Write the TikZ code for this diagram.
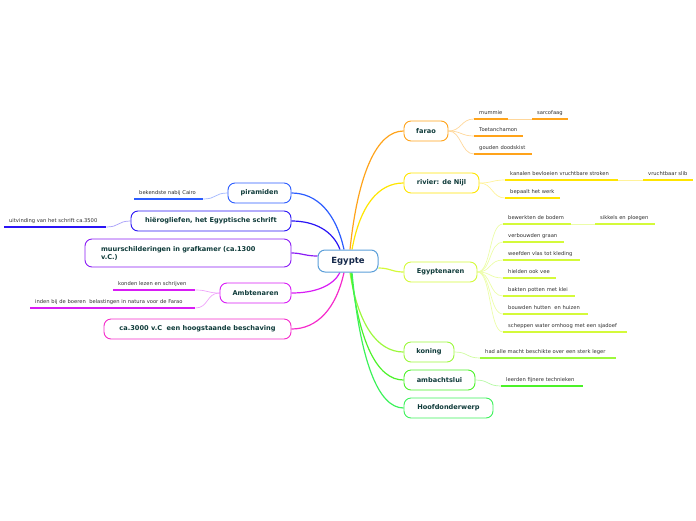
\documentclass[tikz,border=0pt]{standalone}
\usepackage{fontspec}
\setmainfont{DejaVu Sans}
\usetikzlibrary{backgrounds}
\definecolor{cE}{HTML}{5B9FD9}
\definecolor{navy}{HTML}{14284A}
\definecolor{txt}{HTML}{0F3B3A}
\definecolor{leaftxt}{HTML}{2E2E2E}
\definecolor{cFar}{HTML}{FFA31A}
\definecolor{cFarL}{HTML}{FFD79A}
\definecolor{cRiv}{HTML}{FFE500}
\definecolor{cRivL}{HTML}{FFF29A}
\definecolor{cEgy}{HTML}{D4FA3A}
\definecolor{cEgyL}{HTML}{ECFDA8}
\definecolor{cKon}{HTML}{9CF83C}
\definecolor{cKonL}{HTML}{CFFCA0}
\definecolor{cAmb}{HTML}{4CF229}
\definecolor{cAmbL}{HTML}{B5F9A5}
\definecolor{cHoo}{HTML}{3CF25A}
\definecolor{cPir}{HTML}{2B5CFF}
\definecolor{cPirL}{HTML}{9FB5FF}
\definecolor{cHie}{HTML}{2A14F5}
\definecolor{cHieL}{HTML}{A59CF9}
\definecolor{cMuu}{HTML}{8A1CF5}
\definecolor{cAmt}{HTML}{D81CF5}
\definecolor{cAmtL}{HTML}{EFA4FA}
\definecolor{cCa}{HTML}{F52ACB}
\begin{document}
\begin{tikzpicture}[x=1pt,y=-1pt,
  topic/.style={draw, line width=0.9pt, rounded corners=7pt, fill=white,
    minimum height=20pt, inner sep=0pt,
    font=\fontsize{6.6}{8}\selectfont\bfseries, text=txt},
  leaf/.style={inner xsep=5pt, inner ysep=3pt, align=left,
    text height=3.8pt, text depth=1.2pt,
    font=\fontsize{5.2}{6}\selectfont, text=leaftxt, anchor=south west},
  ul/.style={line width=1.5pt},
  lk/.style={line width=0.7pt},
  mc/.style={line width=1.2pt}]
\useasboundingbox (0,0) rectangle (696,520);

% central node
\node[topic, draw=cE, line width=1pt, minimum width=60pt, minimum height=22pt,
  font=\fontsize{8.5}{10}\selectfont\bfseries, text=navy] (E) at (348,261) {Egypte};

% right topics
\node[topic, draw=cFar, minimum width=44pt] (farao) at (426,131) {farao};
\node[topic, draw=cRiv, minimum width=75pt] (rivier) at (441.5,183) {rivier: de Nijl};
\node[topic, draw=cEgy, minimum width=73pt] (egy) at (440.5,272) {Egyptenaren};
\node[topic, draw=cKon, minimum width=50pt] (koning) at (429,352) {koning};
\node[topic, draw=cAmb, minimum width=71pt] (amb) at (439.5,380) {ambachtslui};
\node[topic, draw=cHoo, minimum width=89pt] (hoofd) at (448.5,408) {Hoofdonderwerp};

% left topics
\node[topic, draw=cPir, minimum width=63pt] (pir) at (259.5,193) {piramiden};
\node[topic, draw=cHie, minimum width=160pt] (hie) at (211,221) {hiërogliefen, het Egyptische schrift};
\node[topic, draw=cMuu, minimum width=206pt, minimum height=28pt, text width=174pt, align=left] (muur) at (188,253)
  {\mbox{muurschilderingen in grafkamer (ca.1300}\\v.C.)};
\node[topic, draw=cAmt, minimum width=71pt] (amt) at (255.5,293) {Ambtenaren};
\node[topic, draw=cCa, minimum width=187pt] (ca) at (197.5,329) {ca.3000 v.C\ \ een hoogstaande beschaving};

% leaves farao
\node[leaf, text width=24pt] (f1) at (474,119) {\mbox{mummie}};
\node[leaf, text width=26pt] (f1a) at (532,119) {\mbox{sarcofaag}};
\node[leaf, text width=39pt] (f2) at (474,136) {\mbox{Toetanchamon}};
\node[leaf, text width=48pt] (f3) at (474,154) {\mbox{gouden doodskist}};
% leaves rivier
\node[leaf, text width=103pt] (r1) at (505,180) {\mbox{kanalen bevloeien vruchtbare stroken}};
\node[leaf, text width=40pt] (r1a) at (643,180) {\mbox{vruchtbaar slib}};
\node[leaf, text width=45pt] (r2) at (505,198) {\mbox{bepaalt het werk}};
% leaves Egyptenaren
\node[leaf, text width=58pt] (e1) at (503,224) {\mbox{bewerkten de bodem}};
\node[leaf, text width=50pt] (e1a) at (595,224) {\mbox{sikkels en ploegen}};
\node[leaf, text width=51pt] (e2) at (503,242) {\mbox{verbouwden graan}};
\node[leaf, text width=67pt] (e3) at (503,260) {\mbox{weefden vlas tot kleding}};
\node[leaf, text width=43pt] (e4) at (503,278) {\mbox{hielden ook vee}};
\node[leaf, text width=62pt] (e5) at (503,296) {\mbox{bakten potten met klei}};
\node[leaf, text width=75pt] (e6) at (503,314) {\mbox{bouwden hutten\ \ en huizen}};
\node[leaf, text width=114pt] (e7) at (503,332) {\mbox{scheppen water omhoog met een sjadoef}};
% leaves koning, ambachtslui
\node[leaf, text width=126pt] (k1) at (480,358) {\mbox{had alle macht beschikte over een sterk leger}};
\node[leaf, text width=72pt] (a1) at (501,386) {\mbox{leerden fijnere technieken}};
% left leaves
\node[leaf, text width=59pt] (p1) at (134,199) {\mbox{bekendste nabij Cairo}};
\node[leaf, text width=92pt] (h1) at (4,227) {\mbox{uitvinding van het schrift ca.3500}};
\node[leaf, text width=72pt] (am1) at (113,290) {\mbox{konden lezen en schrijven}};
\node[leaf, text width=155pt] (am2) at (30,308) {\mbox{inden bij de boeren\ \ belastingen in natura voor de Farao}};

\begin{scope}[on background layer]
% main connectors
\draw[mc, cFar] ([xshift=2pt]E.north) .. controls (358,173) and (377,131) .. (farao.west);
\draw[mc, cRiv] ([xshift=4pt]E.north) .. controls (360,206) and (378,183) .. (rivier.west);
\draw[mc, cEgy] ([yshift=-7pt]E.east) .. controls (390,268) and (392,272) .. (egy.west);
\draw[mc, cKon] ([xshift=2pt]E.south) .. controls (358,324) and (377,352) .. (koning.west);
\draw[mc, cAmb] ([xshift=3pt]E.south) .. controls (359,342) and (377,380) .. (amb.west);
\draw[mc, cHoo] ([xshift=4pt]E.south) .. controls (360,360) and (378,408) .. (hoofd.west);
\draw[mc, cPir] ([xshift=-4pt]E.north) .. controls (336,213) and (317,193) .. (pir.east);
\draw[mc, cHie] ([xshift=-8pt]E.north) .. controls (333,231) and (315,221) .. (hie.east);
\draw[mc, cMuu] ([yshift=5pt]E.west) .. controls (305,256) and (302,253) .. (muur.east);
\draw[mc, cAmt] ([xshift=-8pt]E.south) .. controls (333,286) and (315,293) .. (amt.east);
\draw[mc, cCa] ([xshift=-4pt]E.south) .. controls (336,309) and (317,329) .. (ca.east);

% leaf connectors
\foreach \n in {f1,f2,f3}
  \draw[lk, cFarL] (farao.east) .. controls +(13,0) and +(-13,0) .. (\n.south west);
\draw[lk, cFarL] (f1.south east) -- (f1a.south west);
\foreach \n in {r1,r2}
  \draw[lk, cRivL] (rivier.east) .. controls +(13,0) and +(-13,0) .. (\n.south west);
\draw[lk, cRivL] (r1.south east) -- (r1a.south west);
\foreach \n in {e1,e2,e3,e4,e5,e6,e7}
  \draw[lk, cEgyL] (egy.east) .. controls +(14,0) and +(-14,0) .. (\n.south west);
\draw[lk, cEgyL] (e1.south east) -- (e1a.south west);
\draw[lk, cKonL] (koning.east) .. controls +(14,0) and +(-14,0) .. (k1.south west);
\draw[lk, cAmbL] (amb.east) .. controls +(14,0) and +(-14,0) .. (a1.south west);
\draw[lk, cPirL] (pir.west) .. controls +(-13,0) and +(13,0) .. (p1.south east);
\draw[lk, cHieL] (hie.west) .. controls +(-13,0) and +(13,0) .. (h1.south east);
\foreach \n in {am1,am2}
  \draw[lk, cAmtL] (amt.west) .. controls +(-13,0) and +(13,0) .. (\n.south east);
\end{scope}

% underlines
\foreach \n/\c in {f1/cFar,f1a/cFar,f2/cFar,f3/cFar,r1/cRiv,r1a/cRiv,r2/cRiv,
  e1/cEgy,e1a/cEgy,e2/cEgy,e3/cEgy,e4/cEgy,e5/cEgy,e6/cEgy,e7/cEgy,
  k1/cKon,a1/cAmb,p1/cPir,h1/cHie,am1/cAmt,am2/cAmt}
  \draw[ul, \c] (\n.south west) -- (\n.south east);
\end{tikzpicture}
\end{document}
